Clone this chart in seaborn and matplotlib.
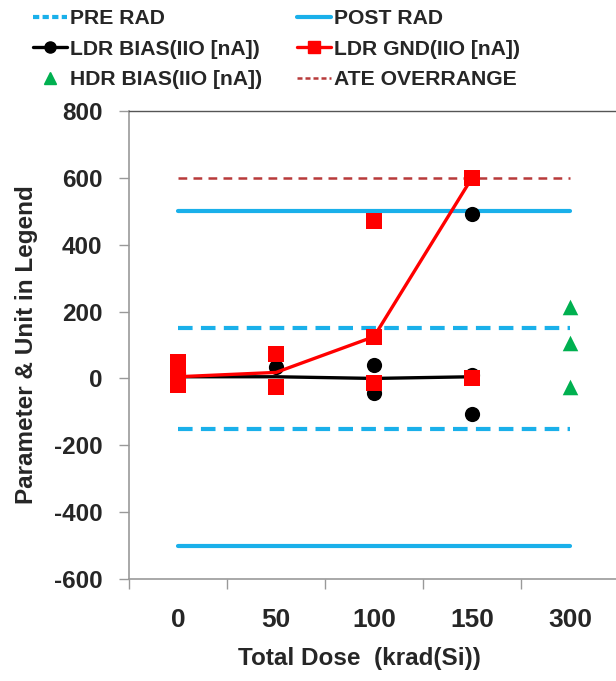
import numpy as np
import pandas as pd
import matplotlib
matplotlib.use("Agg")
import matplotlib.pyplot as plt
import seaborn as sns
from matplotlib.lines import Line2D

# ---- data ----
doses = ["0", "50", "100", "150", "300"]

ldr_bias_dose = ["0", "50", "100", "100", "150", "150", "150"]
ldr_bias_vals = [15, 33, 39, -45, 491, 9, -105]
ldr_bias_line_dose = ["0", "50", "100", "150"]
ldr_bias_line_vals = [5, 5, 0, 5]

ldr_gnd_dose = ["0", "0", "0", "50", "50", "100", "100", "100", "150", "150"]
ldr_gnd_vals = [48, 5, -20, 72, -27, 471, 125, -15, 599, 0]
ldr_gnd_line_dose = ["0", "50", "100", "150"]
ldr_gnd_line_vals = [5, 18, 125, 600]

hdr_bias_dose = ["300", "300", "300"]
hdr_bias_vals = [213, 105, -26]

pre_rad_limits = [150, -150]
post_rad_limits = [500, -500]
ate_overrange = [600]

yticks = [-600, -400, -200, 0, 200, 400, 600, 800]

# ---- style ----
sns.set_style("white")
plt.rcParams["font.family"] = ["Liberation Sans", "DejaVu Sans"]
plt.rcParams["font.weight"] = "bold"

BLUE = "#1AB0EA"
RED = "#FF0000"
GREEN = "#00B050"
DARKRED = "#B83A3A"

pos = {d: i for i, d in enumerate(doses)}

fig = plt.figure(figsize=(6.16, 6.81), dpi=100)
ax = fig.add_axes([129 / 616, 1 - 579 / 681, 490 / 616, 468 / 681])

# reference limit lines
x0, x1 = pos["0"], pos["300"]
for v in pre_rad_limits:
    ax.plot([x0, x1], [v, v], color=BLUE, lw=3, ls=(0, (3.5, 2)), solid_capstyle="round", zorder=1)
for v in post_rad_limits:
    ax.plot([x0, x1], [v, v], color=BLUE, lw=3, ls="-", solid_capstyle="round", zorder=1)
for v in ate_overrange:
    ax.plot([x0, x1], [v, v], color=DARKRED, lw=1.8, ls=(0, (3.5, 2.5)), zorder=1)

df_bias = pd.DataFrame({"x": [pos[d] for d in ldr_bias_dose], "y": ldr_bias_vals})
df_bias_line = pd.DataFrame({"x": [pos[d] for d in ldr_bias_line_dose], "y": ldr_bias_line_vals})
df_gnd = pd.DataFrame({"x": [pos[d] for d in ldr_gnd_dose], "y": ldr_gnd_vals})
df_gnd_line = pd.DataFrame({"x": [pos[d] for d in ldr_gnd_line_dose], "y": ldr_gnd_line_vals})
df_hdr = pd.DataFrame({"x": [pos[d] for d in hdr_bias_dose], "y": hdr_bias_vals})

sns.lineplot(data=df_bias_line, x="x", y="y", color="black", lw=2.4, ax=ax, zorder=3)
sns.scatterplot(data=df_bias, x="x", y="y", color="black", marker="o", s=120, linewidth=0, ax=ax, zorder=4)
sns.lineplot(data=df_gnd_line, x="x", y="y", color=RED, lw=2.4, ax=ax, zorder=5)
sns.scatterplot(data=df_gnd, x="x", y="y", color=RED, marker="s", s=125, linewidth=0, ax=ax, zorder=6)
sns.scatterplot(data=df_hdr, x="x", y="y", color=GREEN, marker="^", s=125, linewidth=0, ax=ax, zorder=6)

ax.set_xlim(-0.5, 4.5)
ax.set_ylim(-600, 800)
ax.set_yticks(yticks)
ax.set_yticklabels([str(t) for t in yticks])
ax.set_xticks(np.arange(-0.5, 4.0, 1.0))
ax.set_xticklabels([])
ax.set_xticks(range(len(doses)), minor=True)
ax.set_xticklabels(doses, minor=True)
ax.tick_params(axis="x", which="major", length=7, width=1, color="#999999", direction="out", bottom=True)
ax.tick_params(axis="x", which="minor", length=0, pad=21, labelsize=19)
ax.tick_params(axis="y", length=7, width=1, color="#999999", direction="out", pad=12, labelsize=17.5, left=True)
for lab in ax.get_xticklabels(minor=True) + ax.get_yticklabels():
    lab.set_fontweight("bold")

for s in ["left", "bottom"]:
    ax.spines[s].set_color("#999999")
    ax.spines[s].set_linewidth(1.2)
ax.spines["top"].set_color("#555555")
ax.spines["top"].set_linewidth(1.0)
ax.spines["right"].set_visible(False)

ax.set_xlabel("Total Dose  (krad(Si))", fontsize=17.5, fontweight="bold")
ax.set_ylabel("Parameter & Unit in Legend", fontsize=17.5, fontweight="bold")
ax.xaxis.set_label_coords(0.471, -0.145)
ax.yaxis.set_label_coords(-0.185, 0.5)

handles = [
    Line2D([], [], color=BLUE, lw=3, ls=(0, (1.5, 0.8))),
    Line2D([], [], color="black", lw=2.4, marker="o", ms=8),
    Line2D([], [], color=GREEN, lw=0, marker="^", ms=9),
    Line2D([], [], color=BLUE, lw=3),
    Line2D([], [], color=RED, lw=2.4, marker="s", ms=9),
    Line2D([], [], color=DARKRED, lw=1.8, ls=(0, (2, 1.2))),
]
labels = ["PRE RAD", "LDR BIAS(IIO [nA])", "HDR BIAS(IIO [nA])",
          "POST RAD", "LDR GND(IIO [nA])", "ATE OVERRANGE"]
fig.legend(handles, labels, loc="upper left", bbox_to_anchor=(33 / 616, 1 - 9 / 681),
           ncol=2, frameon=False, borderpad=0, borderaxespad=0,
           handlelength=1.6, handletextpad=0.15, columnspacing=1.65, labelspacing=0.55,
           prop={"weight": "bold", "size": 15.2})

fig.savefig("out.png", dpi=100)
